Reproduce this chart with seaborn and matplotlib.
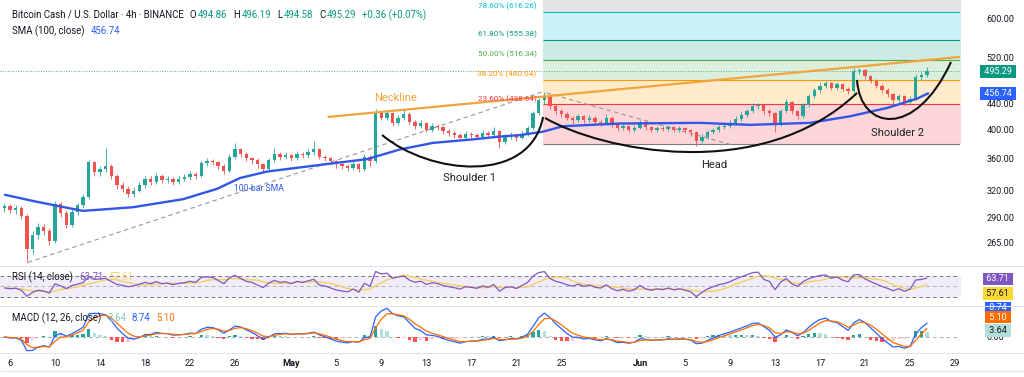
import numpy as np
import pandas as pd
import matplotlib
matplotlib.use("Agg")
import matplotlib.pyplot as plt
import seaborn as sns
from matplotlib.path import Path
from matplotlib.patches import PathPatch
from matplotlib.lines import Line2D
from matplotlib.ticker import NullLocator

# ---------------- data ----------------
first_bar = "2025-04-05 12:00"
bar_freq = "12h"
day_origin = "2025-04-06"
first_open = 300.0

close = [
    302, 298, 300, 292, 258, 272, 280, 276, 266, 305,
    295, 282, 296, 303, 312, 355, 342, 346, 350, 338,
    326, 322, 316, 320, 326, 334, 330, 338, 332, 334,
    330, 334, 336, 340, 338, 354, 356, 355, 350, 344,
    362, 372, 366, 360, 358, 352, 346, 358, 366, 362,
    364, 360, 366, 364, 368, 372, 362, 360, 356, 352,
    350, 348, 352, 346, 362, 356, 425, 418, 425, 410,
    418, 424, 412, 405, 410, 400, 406, 404, 398, 395,
    392, 388, 394, 392, 390, 395, 392, 398, 382, 390,
    392, 388, 394, 402, 425, 445, 452, 436, 428, 424,
    418, 414, 420, 414, 418, 412, 410, 418, 408, 402,
    405, 400, 403, 412, 404, 400, 403, 401, 404, 400,
    402, 399, 396, 384, 390, 396, 400, 404, 406, 410,
    416, 422, 428, 436, 438, 428, 425, 408, 428, 442,
    428, 420, 438, 452, 462, 470, 474, 466, 472, 464,
    460, 495, 498, 486, 478, 470, 462, 455, 446, 452,
    442, 448, 485, 488, 495.29]

high = [
    306, 305, 304, 302, 294, 276, 284, 283, 279, 308,
    307, 298, 299, 306, 316, 358, 357, 350, 374, 352,
    340, 330, 325, 324, 330, 338, 337, 341, 340, 337,
    336, 338, 340, 344, 343, 357, 360, 359, 357, 352,
    366, 381, 374, 368, 362, 360, 354, 361, 374, 368,
    368, 366, 370, 369, 372, 384, 374, 365, 362, 358,
    355, 353, 356, 354, 366, 364, 431, 428, 429, 427,
    422, 432, 426, 414, 414, 412, 410, 409, 406, 401,
    398, 395, 398, 397, 395, 399, 398, 404, 400, 394,
    396, 395, 398, 406, 428, 449, 459, 454, 439, 431,
    427, 421, 424, 422, 422, 420, 415, 424, 420, 410,
    409, 407, 407, 415, 414, 406, 406, 405, 407, 406,
    405, 404, 401, 398, 393, 399, 403, 407, 410, 414,
    420, 426, 432, 441, 441, 440, 431, 427, 431, 448,
    444, 430, 441, 456, 466, 475, 478, 476, 476, 474,
    467, 502, 502, 500, 489, 481, 473, 465, 458, 456,
    454, 452, 490, 494, 503]

low = [
    296, 295, 294, 288, 246, 254, 268, 272, 262, 264,
    290, 279, 280, 293, 300, 310, 338, 338, 343, 334,
    322, 318, 312, 313, 318, 323, 327, 328, 329, 329,
    327, 328, 331, 333, 334, 336, 350, 351, 346, 340,
    342, 359, 362, 356, 353, 348, 341, 344, 355, 358,
    359, 356, 358, 360, 361, 365, 359, 356, 352, 348,
    346, 344, 345, 343, 344, 349, 354, 414, 415, 406,
    407, 415, 408, 401, 402, 396, 397, 400, 394, 391,
    388, 385, 386, 388, 386, 387, 388, 390, 374, 380,
    386, 384, 386, 391, 400, 422, 440, 432, 424, 419,
    414, 409, 411, 410, 411, 408, 406, 408, 404, 398,
    399, 396, 397, 401, 400, 396, 397, 398, 398, 397,
    397, 395, 391, 377, 381, 387, 393, 397, 401, 403,
    407, 413, 419, 425, 432, 424, 420, 396, 405, 425,
    424, 416, 418, 435, 449, 458, 466, 462, 463, 460,
    455, 458, 490, 482, 474, 466, 458, 450, 440, 442,
    438, 440, 446, 480, 485]

# 100-bar SMA (days after 6 Apr, price)
sma_day = [-0.44, 2.04, 4.0, 6.49, 10.93, 15.38, 18.4, 20.44, 22.84, 27.29,
           31.73, 34.67, 37.6, 41.2, 43.56, 45.33, 47.38, 49.16, 54.22,
           61.33, 65.78, 71.11, 74.67, 77.96, 80.62, 81.6]
sma_val = [315, 308, 303, 297, 301, 310, 322, 335, 343, 351,
           359, 372, 381, 386, 390, 392, 397, 405, 409,
           410, 407, 410, 420, 433, 448, 456.74]

fib_ratio = [0.0, 0.236, 0.382, 0.5, 0.618, 0.786, 1.0]
fib_price = [379.40, 438.64, 480.04, 516.34, 555.38, 616.26, 703.20]
fib_start_day = 47.4

neck_day = [28.3, 84.4]
neck_price = [419.0, 521.9]
trend_up_day = [1.6, 47.3]
trend_up_price = [246.0, 459.0]
trend_dn_day = [47.7, 64.3]
trend_dn_price = [457.5, 377.6]

shoulder1_day = [33.07, 37.33, 46.22, 47.38]
shoulder1_price = [392.2, 338.7, 326.6, 419.0]
head_day = [47.56, 52.44, 66.67, 75.29]
head_price = [417.4, 371.2, 326.6, 457.5]
shoulder2_day = [75.29, 75.56, 80.44, 83.64]
shoulder2_price = [479.8, 399.5, 385.1, 512.4]

price_ticks = [265, 290, 320, 360, 400, 440, 520, 600]
tick_dates = ["2025-04-06", "2025-04-10", "2025-04-14", "2025-04-18", "2025-04-22",
              "2025-04-26", "2025-05-01", "2025-05-05", "2025-05-09", "2025-05-13",
              "2025-05-17", "2025-05-21", "2025-05-25", "2025-06-01", "2025-06-05",
              "2025-06-09", "2025-06-13", "2025-06-17", "2025-06-21", "2025-06-25",
              "2025-06-29"]
tick_labels = ["6", "10", "14", "18", "22", "26", "May", "5", "9", "13", "17", "21",
               "25", "Jun", "5", "9", "13", "17", "21", "25", "29"]

last_ohlc = ["494.86", "496.19", "494.58", "495.29"]
last_change = "+0.36 (+0.07%)"
sma_last = 456.74
last_close = 495.29
rsi_last, rsi_ma_last = "63.71", "57.61"
macd_hist_last, macd_last, signal_last = "3.64", "8.74", "5.10"

# ---------------- style ----------------
sns.set_theme(style="white")
plt.rcParams["font.family"] = ["Roboto", "DejaVu Sans"]
TXT = "#131722"
UP, DN = "#26a69a", "#ef5350"
BLUE = "#2962ff"
fib_colors = ["#787b86", "#f23645", "#ff9800", "#4caf50", "#089981", "#00bcd4", "#787b86"]

W, H = 1024, 377
fig = plt.figure(figsize=(W / 100, H / 100), dpi=100)
fig.patch.set_facecolor("white")


def rect(top, bottom, left=0, right=960):
    return [left / W, 1 - bottom / H, (right - left) / W, (bottom - top) / H]


ax = fig.add_axes(rect(0, 265))
ax_rsi = fig.add_axes(rect(266, 305), sharex=ax)
ax_macd = fig.add_axes(rect(306, 352), sharex=ax)

origin = pd.Timestamp(day_origin)
dates = pd.date_range(first_bar, periods=len(close), freq=bar_freq)
xd = ((dates - origin) / pd.Timedelta("1D")).to_numpy()
c = np.array(close, dtype=float)
o = np.r_[first_open, c[:-1]]
hi = np.maximum(np.array(high, float), np.maximum(o, c))
lo = np.minimum(np.array(low, float), np.minimum(o, c))
cols = np.where(c >= o, UP, DN)

XMIN, XMAX = -0.89, 84.44

# ---------------- main pane ----------------
ax.set_yscale("log")
ax.set_ylim(243.6, 643)
ax.set_xlim(XMIN, XMAX)

xr = XMAX + 2
for i in range(len(fib_price) - 1):
    ax.fill_between([fib_start_day, xr], fib_price[i], fib_price[i + 1],
                    color=fib_colors[i + 1], alpha=0.2, lw=0, zorder=0)
ax.hlines(fib_price, fib_start_day, xr, colors=fib_colors, lw=0.8, zorder=1)
for i in range(1, 6):
    ax.annotate(f"{fib_ratio[i]*100:.2f}% ({fib_price[i]:.2f})",
                xy=(fib_start_day - 0.6, fib_price[i]), xytext=(0, 1.2),
                textcoords="offset points", ha="right", va="bottom",
                fontsize=5.9, color=fib_colors[i], zorder=7, annotation_clip=False)

ax.axhline(last_close, color="#5aa89c", lw=0.7, ls=(0, (1, 1.6)), zorder=1)

ax.plot(trend_up_day, trend_up_price, color="#9598a1", lw=0.8, dashes=(4, 3), zorder=2)
ax.plot(trend_dn_day, trend_dn_price, color="#9598a1", lw=0.8, dashes=(4, 3), zorder=2)

ax.vlines(xd, lo, hi, colors=cols, lw=0.6, zorder=3)
ax.bar(xd, np.maximum(np.abs(c - o), 0.6), bottom=np.minimum(o, c), width=0.3,
       color=cols, lw=0, zorder=4)

sns.lineplot(x=sma_day, y=sma_val, ax=ax, color="#3156e8", lw=1.7,
             estimator=None, sort=False, legend=False, zorder=5)
sns.lineplot(x=neck_day, y=neck_price, ax=ax, color="#f2a33a", lw=1.6,
             estimator=None, sort=False, legend=False, zorder=6)

for dd, pp in [(shoulder1_day, shoulder1_price), (head_day, head_price),
               (shoulder2_day, shoulder2_price)]:
    path = Path(list(zip(dd, pp)), [Path.MOVETO, Path.CURVE4, Path.CURVE4, Path.CURVE4])
    ax.add_patch(PathPatch(path, fc="none", ec="#111111", lw=1.5, zorder=6,
                           transform=ax.transData))

ax.text(34.3, 449, "Neckline", color="#f2a33a", fontsize=8, ha="center", va="center", zorder=7)
ax.text(40.8, 335.4, "Shoulder 1", color="#222222", fontsize=8, ha="center", va="center", zorder=7)
ax.text(62.6, 351.4, "Head", color="#222222", fontsize=8, ha="center", va="center", zorder=7)
ax.text(78.9, 395.2, "Shoulder 2", color="#222222", fontsize=8, ha="center", va="center", zorder=7)
ax.text(22.1, 322.0, "100-bar SMA", color="#3156e8", fontsize=6.2, ha="center", va="center", zorder=7)

ax.yaxis.tick_right()
ax.set_yticks(price_ticks)
ax.set_yticklabels([f"{v:.2f}" for v in price_ticks])
ax.yaxis.set_minor_locator(NullLocator())
ax.tick_params(axis="y", length=0, pad=19, labelsize=6.5, colors=TXT)
ax.tick_params(axis="x", length=0, labelbottom=False)
ax.set_xlabel("")
ax.set_ylabel("")

# ---------------- RSI pane (indicators derived from the 12h closes) ----------------
s = pd.Series(c)
rsi_len = 10
d = s.diff().fillna(0).to_numpy()
gain = np.clip(d, 0, None)
loss = np.clip(-d, 0, None)
ag = np.empty_like(c)
al = np.empty_like(c)
g_prev, l_prev = gain[1:rsi_len + 1].mean(), loss[1:rsi_len + 1].mean()  # Wilder seed
for k in range(len(c)):
    g_prev = (g_prev * (rsi_len - 1) + gain[k]) / rsi_len
    l_prev = (l_prev * (rsi_len - 1) + loss[k]) / rsi_len
    ag[k], al[k] = g_prev, l_prev
rsi = pd.Series(100 * ag / (ag + al)).fillna(50)
rsi_ma = rsi.rolling(6, min_periods=1).mean()

ax_rsi.set_ylim(14.8, 89)
ax_rsi.fill_between([XMIN - 2, XMAX + 2], 30, 70, color="#7e57c2", alpha=0.1, lw=0, zorder=0)
for lvl, a in [(70, 1.0), (50, 0.5), (30, 1.0)]:
    ax_rsi.axhline(lvl, color="#787b86", lw=0.7, dashes=(4, 3), alpha=a, zorder=1)
sns.lineplot(x=xd, y=rsi_ma.to_numpy(), ax=ax_rsi, color="#f7cf63", lw=1.0,
             estimator=None, legend=False, zorder=2)
sns.lineplot(x=xd, y=rsi.to_numpy(), ax=ax_rsi, color="#7e57c2", lw=0.9,
             estimator=None, legend=False, zorder=3)
ax_rsi.set_yticks([])
ax_rsi.tick_params(axis="x", length=0, labelbottom=False)
ax_rsi.set_xlabel("")
ax_rsi.set_ylabel("")

# ---------------- MACD pane ----------------
ema_f = s.ewm(span=12 * 4 / 12, adjust=False).mean()
ema_s = s.ewm(span=26 * 4 / 12, adjust=False).mean()
macd = ema_f - ema_s
sig = macd.ewm(span=9 * 4 / 12, adjust=False).mean()
hist = macd - sig
prev = hist.shift(1).fillna(0)
hcols = np.where(hist >= 0, np.where(hist > prev, "#26a69a", "#b2dfdb"),
                 np.where(hist > prev, "#ffcdd2", "#ff5252"))
top = max(macd.max(), sig.max(), hist.max()) * 1.08
bot = min(-top * 12 / 34, min(macd.min(), sig.min(), hist.min()) * 1.1)
ax_macd.set_ylim(bot, top)
ax_macd.axhline(0, color="#787b86", lw=0.7, dashes=(4, 3), alpha=0.6, zorder=1)
ax_macd.bar(xd, hist.to_numpy(), width=0.3, color=hcols, lw=0, zorder=2)
sns.lineplot(x=xd, y=macd.to_numpy(), ax=ax_macd, color=BLUE, lw=0.9,
             estimator=None, legend=False, zorder=3)
sns.lineplot(x=xd, y=sig.to_numpy(), ax=ax_macd, color="#ff6d00", lw=0.9,
             estimator=None, legend=False, zorder=3)
ax_macd.yaxis.tick_right()
ax_macd.set_yticks([0])
ax_macd.set_yticklabels(["0.00"])
ax_macd.tick_params(axis="y", length=0, pad=19, labelsize=6.5, colors=TXT)
tick_x = ((pd.to_datetime(tick_dates) - origin) / pd.Timedelta("1D")).to_numpy()
ax_macd.set_xticks(tick_x)
ax_macd.set_xticklabels(tick_labels)
ax_macd.tick_params(axis="x", length=0, pad=5, labelsize=6.6, colors=TXT)
for lab in ax_macd.get_xticklabels():
    if lab.get_text() in ("May", "Jun"):
        lab.set_fontweight("bold")
ax_macd.set_xlabel("")
ax_macd.set_ylabel("")
ax_macd.set_xlim(XMIN, XMAX)

for a in (ax, ax_rsi, ax_macd):
    for sp in a.spines.values():
        sp.set_visible(False)
    a.grid(False)

# pane separators
for ypx in (265.5, 305.5, 352.5, 371):
    fig.add_artist(Line2D([0, 1], [1 - ypx / H, 1 - ypx / H], transform=fig.transFigure,
                          color="#e0e3eb", lw=0.8))

# ---------------- value boxes on the right ----------------
XB = 998 / 960


def vbox(axis, y, text, bg, fg, transform):
    axis.text(XB, y, f" {text} ", transform=transform, ha="center", va="center",
              fontsize=6.5, color=fg, zorder=20, clip_on=False,
              bbox=dict(boxstyle="square,pad=0.2", fc=bg, ec="none"))


vbox(ax, last_close, f"{last_close:.2f}", "#089981", "white", ax.get_yaxis_transform())
vbox(ax, sma_last, f"{sma_last:.2f}", BLUE, "white", ax.get_yaxis_transform())
vbox(ax_rsi, 0.67, rsi_last, "#7e57c2", "white", ax_rsi.transAxes)
vbox(ax_rsi, 0.30, rsi_ma_last, "#fdd835", TXT, ax_rsi.transAxes)
vbox(ax_macd, 0.96, macd_last, BLUE, "white", ax_macd.transAxes)
vbox(ax_macd, 0.76, signal_last, "#ff6d00", "white", ax_macd.transAxes)
vbox(ax_macd, 0.47, macd_hist_last, "#b2dfdb", TXT, ax_macd.transAxes)

# ---------------- legends (sequential coloured text) ----------------
renderer = fig.canvas.get_renderer()


def seq_text(x_px, y_px, pieces, size):
    x = x_px
    for txt, color, gap in pieces:
        t = fig.text(x / W, 1 - y_px / H, txt, color=color, fontsize=size,
                     ha="left", va="center", zorder=30)
        x += t.get_window_extent(renderer).width + gap


G = "#089981"
LS = 6.9
seq_text(12, 15, [("Bitcoin Cash / U.S. Dollar · 4h · BINANCE", TXT, 6),
                  ("O", TXT, 1.5), (last_ohlc[0], G, 6),
                  ("H", TXT, 1.5), (last_ohlc[1], G, 6),
                  ("L", TXT, 1.5), (last_ohlc[2], G, 6),
                  ("C", TXT, 1.5), (last_ohlc[3], G, 6),
                  (last_change, G, 0)], LS)
seq_text(12, 31, [("SMA (100, close)", TXT, 6), (f"{sma_last:.2f}", BLUE, 0)], LS)
seq_text(12, 277, [("RSI (14, close)", TXT, 6), (rsi_last, "#7e57c2", 6),
                   (rsi_ma_last, "#f7cf63", 0)], LS)
seq_text(12, 318, [("MACD (12, 26, close)", TXT, 6), (macd_hist_last, "#80cbc4", 6),
                   (macd_last, BLUE, 6), (signal_last, "#ff6d00", 0)], LS)

fig.savefig("out.png", dpi=100, facecolor="white")
